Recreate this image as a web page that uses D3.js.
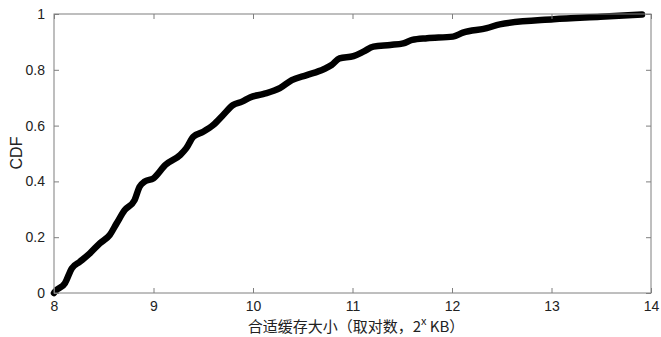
<!DOCTYPE html>
<html>
<head>
<meta charset="utf-8">
<script src="https://d3js.org/d3.v7.min.js"></script>
<style>
  body { margin: 0; background: #fff; }
  text { font-family: "Liberation Sans", Arial, sans-serif; fill: #222; }
</style>
</head>
<body>
<svg width="661" height="337"></svg>
<script>
// log2 of cache size (x) and cumulative fraction (y)
var cacheLog = [8.0, 8.01, 8.11, 8.18, 8.26, 8.36, 8.46, 8.56, 8.63, 8.71, 8.81, 8.86, 8.91, 9.0,
                9.12, 9.27, 9.33, 9.40, 9.50, 9.60, 9.70, 9.80, 9.89, 9.97, 10.10, 10.27,
                10.39, 10.54, 10.71, 10.79, 10.87, 11.01, 11.11, 11.21, 11.38, 11.51, 11.60,
                11.75, 12.01, 12.11, 12.35, 12.48, 13.02, 13.49, 13.91];
var cdf = [0.0, 0.005, 0.035, 0.089, 0.112, 0.142, 0.178, 0.208, 0.25, 0.297, 0.333, 0.381, 0.399, 0.411,
           0.459, 0.495, 0.519, 0.560, 0.578, 0.602, 0.638, 0.674, 0.686, 0.701, 0.713, 0.734,
           0.763, 0.781, 0.802, 0.817, 0.841, 0.849, 0.865, 0.883, 0.889, 0.895, 0.907,
           0.913, 0.919, 0.933, 0.949, 0.963, 0.981, 0.990, 0.998];
var xTicks = [8, 9, 10, 11, 12, 13, 14];
var yTicks = [0, 0.2, 0.4, 0.6, 0.8, 1];

var svg = d3.select("svg");
var pLeft = 54, pRight = 651, pTop = 14, pBottom = 293;
var x = d3.scaleLinear().domain([8, 14]).range([pLeft, pRight]);
var y = d3.scaleLinear().domain([0, 1]).range([pBottom, pTop]);
var axisColor = "#7f7f7f";

// curve
var line = d3.line()
    .curve(d3.curveMonotoneX)
    .x(function(d, i) { return x(cacheLog[i]); })
    .y(function(d, i) { return y(cdf[i]); });
svg.append("path")
    .datum(cdf)
    .attr("d", line)
    .attr("fill", "none")
    .attr("stroke", "#000")
    .attr("stroke-width", 6.5)
    .attr("stroke-linejoin", "round")
    .attr("stroke-linecap", "round");

// box
svg.append("rect")
    .attr("x", pLeft).attr("y", pTop)
    .attr("width", pRight - pLeft).attr("height", pBottom - pTop)
    .attr("fill", "none").attr("stroke", axisColor).attr("stroke-width", 1);

function styleAxis(g) {
  g.select(".domain").remove();
  g.selectAll(".tick line").attr("stroke", axisColor);
  g.selectAll(".tick text").style("font-size", "14px").attr("fill", "#222");
}

// axes, ticks pointing inwards like matlab
svg.append("g")
    .attr("transform", "translate(0," + pBottom + ")")
    .call(d3.axisBottom(x).tickValues(xTicks).tickFormat(d3.format("d")).tickSizeInner(-5).tickPadding(8))
    .call(styleAxis);
svg.append("g")
    .attr("transform", "translate(0," + pTop + ")")
    .call(d3.axisTop(x).tickValues(xTicks).tickFormat("").tickSizeInner(-5))
    .call(styleAxis);
svg.append("g")
    .attr("transform", "translate(" + pLeft + ",0)")
    .call(d3.axisLeft(y).tickValues(yTicks).tickFormat(d3.format("~g")).tickSizeInner(-5).tickPadding(9))
    .call(styleAxis);
svg.append("g")
    .attr("transform", "translate(" + pRight + ",0)")
    .call(d3.axisRight(y).tickValues(yTicks).tickFormat("").tickSizeInner(-5))
    .call(styleAxis);

// axis titles
var xt = svg.append("text")
    .attr("x", 356)
    .attr("y", 332)
    .attr("text-anchor", "middle")
    .style("font-family", "'Noto Sans CJK SC', sans-serif")
    .style("font-size", "15px");
xt.append("tspan").text("合适缓存大小（取对数，2");
xt.append("tspan").attr("dy", -7).style("font-size", "11px").text("x");
xt.append("tspan").attr("dy", 7).text(" KB）");

svg.append("text")
    .attr("transform", "rotate(-90)")
    .attr("x", -153)
    .attr("y", 22)
    .attr("text-anchor", "middle")
    .style("font-size", "16px")
    .text("CDF");
</script>
</body>
</html>
